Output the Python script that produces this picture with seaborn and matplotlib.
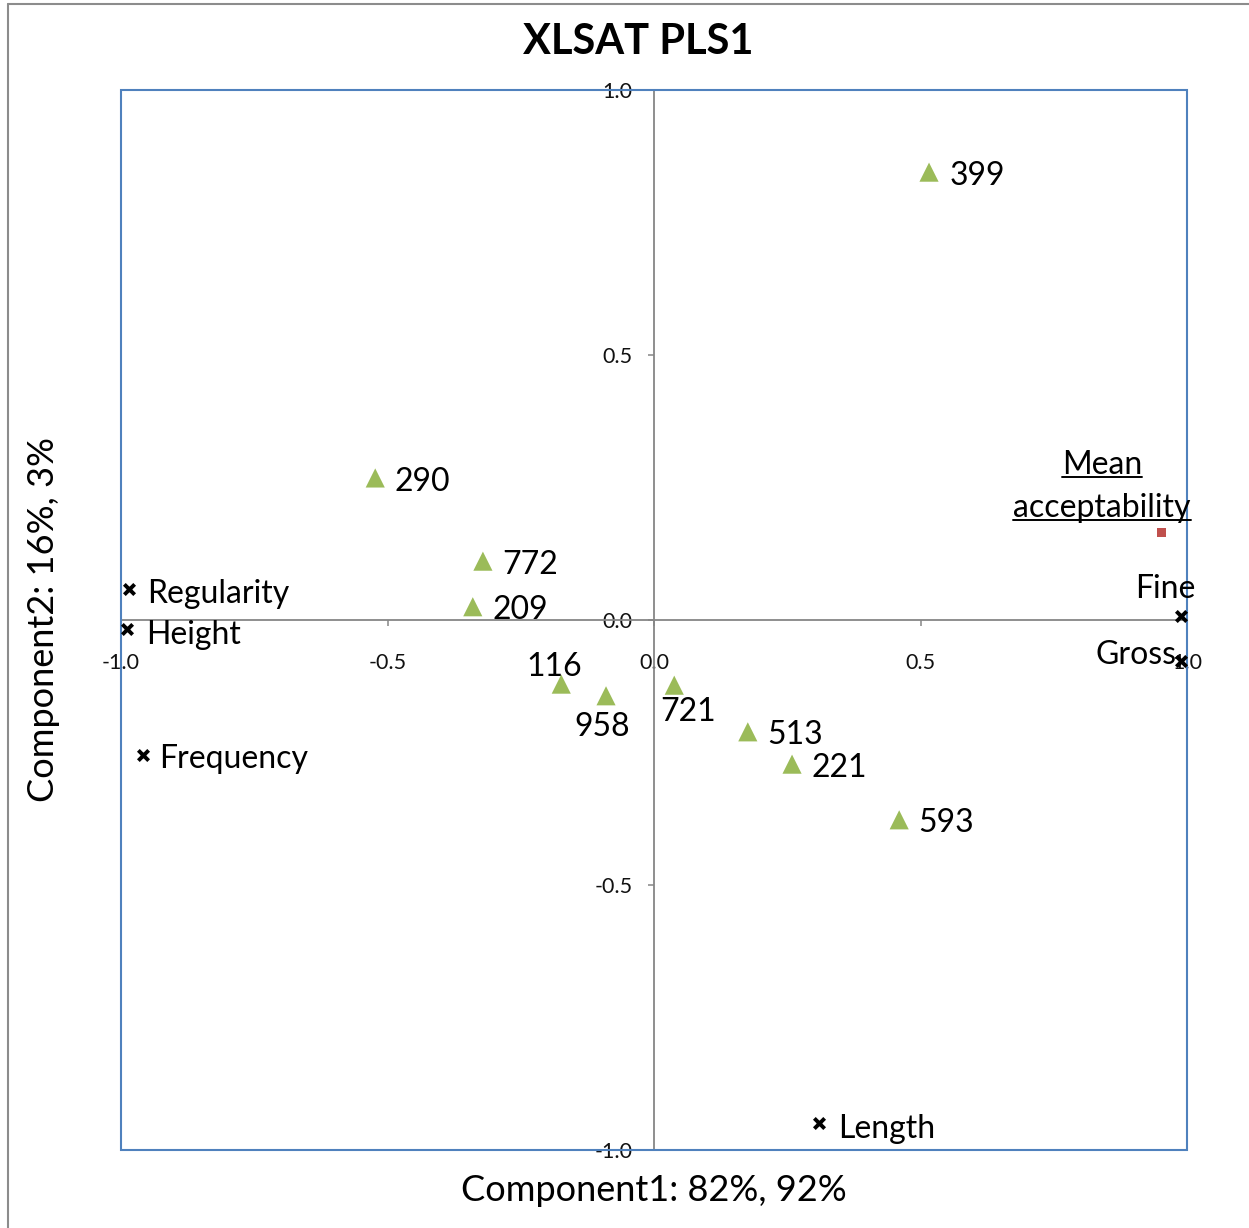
import matplotlib
matplotlib.use("Agg")
import matplotlib.pyplot as plt
import seaborn as sns
import pandas as pd
from matplotlib.patches import Rectangle
from matplotlib.lines import Line2D
from matplotlib.transforms import IdentityTransform

# ---- data ----
obs_labels = ["399", "290", "772", "209", "116", "958", "721", "513", "221", "593"]
obs_x = [0.516, -0.523, -0.321, -0.340, -0.174, -0.090, 0.038, 0.176, 0.259, 0.460]
obs_y = [0.845, 0.268, 0.111, 0.025, -0.121, -0.143, -0.123, -0.211, -0.272, -0.377]

var_labels = ["Regularity", "Height", "Frequency", "Fine", "Gross", "Length"]
var_x = [-0.985, -0.989, -0.959, 0.989, 0.989, 0.310]
var_y = [0.058, -0.017, -0.255, 0.008, -0.077, -0.949]

resp_labels = ["Mean", "acceptability"]
resp_x = [0.953]
resp_y = [0.166]

ticks = [-1.0, -0.5, 0.0, 0.5, 1.0]
tick_labels = ["-1.0", "-0.5", "0.0", "0.5", "1.0"]

title = "XLSAT PLS1"
xlabel = "Component1: 82%, 92%"
ylabel = "Component2: 16%, 3%"

# ---- style ----
sns.set_style("white")
plt.rcParams["font.family"] = ["Lato", "DejaVu Sans"]

GREEN = "#9BBB59"
RED = "#C0504D"
BLUE = "#4F81BD"
GRAY = "#868686"

W, H = 1249, 1228
fig = plt.figure(figsize=(W / 100, H / 100), dpi=100)
ax = fig.add_axes([121 / W, 1 - 1150 / H, (1187 - 121) / W, (1150 - 90) / H])

obs_df = pd.DataFrame({"x": obs_x, "y": obs_y, "label": obs_labels})
var_df = pd.DataFrame({"x": var_x, "y": var_y, "label": var_labels})
resp_df = pd.DataFrame({"x": resp_x, "y": resp_y})

sns.scatterplot(data=obs_df, x="x", y="y", marker="^", s=190, color=GREEN,
                edgecolor="none", ax=ax, zorder=4, clip_on=False)
sns.scatterplot(data=var_df, x="x", y="y", marker="x", s=55, color="black",
                linewidth=2.8, ax=ax, zorder=5, clip_on=False)
sns.scatterplot(data=resp_df, x="x", y="y", marker="s", s=42, color=RED,
                edgecolor="none", ax=ax, zorder=4, clip_on=False)

ax.set_xlim(-1, 1)
ax.set_ylim(-1, 1)
ax.set_xticks(ticks)
ax.set_xticklabels(tick_labels)
ax.set_yticks(ticks)
ax.set_yticklabels(tick_labels)

for side in ["top", "right"]:
    ax.spines[side].set_visible(False)
ax.spines["left"].set_position(("data", 0))
ax.spines["bottom"].set_position(("data", 0))
for side in ["left", "bottom"]:
    ax.spines[side].set_color(GRAY)
    ax.spines[side].set_linewidth(1.3)
    ax.spines[side].set_zorder(1)

ax.tick_params(axis="both", direction="out", length=4.5, width=1.1, color=GRAY,
               labelsize=15.5, labelcolor="#111111")
ax.tick_params(axis="x", pad=19, bottom=True)
ax.tick_params(axis="y", pad=11, left=True)
ax.grid(False)

# plot frame
ax.add_patch(Rectangle((0, 0), 1, 1, transform=ax.transAxes, fill=False,
                       edgecolor=BLUE, linewidth=1.5, zorder=3, clip_on=False))

ax.set_xlabel(xlabel, fontsize=26, color="black")
ax.xaxis.set_label_coords(0.5, -0.023)
ax.set_ylabel(ylabel, fontsize=26, color="black")
ax.yaxis.set_label_coords(-0.057, 0.5)

fs = 23
# observation labels: (dx, dy, ha) in points
obs_off = {
    "399": (15, -2.5, "left"), "290": (14, -3, "left"), "772": (14, -2.5, "left"),
    "209": (14, -2.5, "left"), "116": (-5, 12.5, "center"), "958": (-3, -22.5, "center"),
    "721": (10, -19, "center"), "513": (14, -2.5, "left"), "221": (14, -2.5, "left"),
    "593": (14, -2.5, "left"),
}
for lab, x, y in zip(obs_labels, obs_x, obs_y):
    dx, dy, ha = obs_off[lab]
    ax.annotate(lab, (x, y), xytext=(dx, dy), textcoords="offset points",
                ha=ha, va="center", fontsize=fs, color="black", zorder=6)

var_off = {
    "Regularity": (13, -3.2, "left"), "Height": (14, -4, "left"),
    "Frequency": (11.5, -3, "left"), "Fine": (-11.5, 19.5, "center"),
    "Gross": (-3, 4.5, "right"), "Length": (13.7, -4, "left"),
}
for lab, x, y in zip(var_labels, var_x, var_y):
    dx, dy, ha = var_off[lab]
    ax.annotate(lab, (x, y), xytext=(dx, dy), textcoords="offset points",
                ha=ha, va="center", fontsize=fs, color="black", zorder=6)

# response label (two lines, underlined)
resp_texts = []
for lab, dy in zip(resp_labels, [41.8, 10.8]):
    t = ax.annotate(lab, (resp_x[0], resp_y[0]), xytext=(-43, dy),
                    textcoords="offset points", ha="center", va="baseline",
                    fontsize=fs, color="black", zorder=6)
    resp_texts.append((t, dy))

fig.text(638 / W, 1 - 42 / H, title, ha="center", va="center",
         fontsize=30, fontweight="bold", color="black")

# outer border (left and top)
fig.add_artist(Line2D([8 / W, 8 / W], [0, 1 - 4 / H], transform=fig.transFigure,
                      color="#8c8c8c", linewidth=1.5))
fig.add_artist(Line2D([8 / W, 1], [1 - 4 / H, 1 - 4 / H], transform=fig.transFigure,
                      color="#8c8c8c", linewidth=1.5))

# underline
fig.canvas.draw()
renderer = fig.canvas.get_renderer()
for t, dy in resp_texts:
    bb = t.get_window_extent(renderer)
    base = ax.transData.transform((resp_x[0], resp_y[0]))[1] + dy * fig.dpi / 72
    yl = base - 3
    fig.add_artist(Line2D([bb.x0, bb.x1], [yl, yl], transform=IdentityTransform(),
                          color="black", linewidth=1.4))

fig.savefig("out.png", dpi=100)
